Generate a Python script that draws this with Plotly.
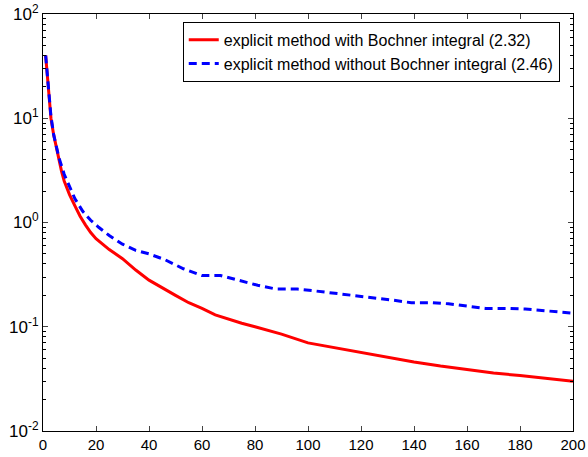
import plotly.graph_objects as go

red_x = [1, 2, 3, 4, 5, 6, 7, 8, 9, 10, 12, 14, 16, 18, 20, 25, 30, 35, 40, 45, 50, 55, 60,
         65, 70, 75, 80, 90, 100, 110, 120, 130, 140, 150, 160, 170, 180, 190, 200]
red_y = [40, 20, 10, 7.0, 5.2, 4.0, 3.1, 2.5, 2.1, 1.85, 1.45, 1.15, 0.95, 0.80, 0.70, 0.55,
         0.45, 0.35, 0.28, 0.235, 0.20, 0.170, 0.15, 0.13, 0.118, 0.108, 0.10, 0.085, 0.070,
         0.063, 0.056, 0.051, 0.046, 0.042, 0.039, 0.036, 0.034, 0.032, 0.030]

blue_x = [1, 2, 3, 4, 5, 6, 8, 10, 12, 15, 18, 21, 25, 30, 35, 40, 46, 53, 60, 67, 74, 81,
          88, 96, 103, 110, 117, 124, 132, 139, 147, 153, 160, 167, 175, 182, 190, 197, 200]
blue_y = [40, 20, 10.5, 7.0, 5.5, 4.2, 2.9, 2.2, 1.7, 1.28, 1.05, 0.9, 0.75, 0.62, 0.54, 0.5,
          0.44, 0.36, 0.31, 0.31, 0.28, 0.25, 0.23, 0.23, 0.22, 0.21, 0.20, 0.19, 0.18, 0.17,
          0.17, 0.166, 0.158, 0.15, 0.15, 0.148, 0.142, 0.137, 0.135]

x_ticks = [0, 20, 40, 60, 80, 100, 120, 140, 160, 180, 200]
y_ticks = [0.01, 0.1, 1, 10, 100]
y_tick_text = ["10<sup>-2</sup>", "10<sup>-1</sup>", "10<sup>0</sup>", "10<sup>1</sup>", "10<sup>2</sup>"]
y_minor = [m * d for d in [0.01, 0.1, 1, 10] for m in range(2, 10)]

fig = go.Figure()
fig.add_trace(go.Scatter(x=red_x, y=red_y, mode="lines",
                         name="explicit method with Bochner integral (2.32)",
                         line=dict(color="#ff0000", width=3)))
fig.add_trace(go.Scatter(x=blue_x, y=blue_y, mode="lines",
                         name="explicit method without Bochner integral (2.46)",
                         line=dict(color="#0000ff", width=3, dash="8px,5px")))

fig.update_layout(
    width=588, height=457,
    margin=dict(l=43, r=15, t=14, b=26),
    paper_bgcolor="white", plot_bgcolor="white",
    font=dict(family="Liberation Sans, Arial, sans-serif", size=14, color="black"),
    showlegend=True,
    legend=dict(x=0.975, y=0.981, xanchor="right", yanchor="top",
                bgcolor="white", bordercolor="black", borderwidth=1,
                font=dict(size=16), tracegroupgap=0),
    xaxis=dict(range=[0, 200], tickvals=x_ticks, ticks="inside", ticklen=5,
               showline=True, linecolor="black", linewidth=1, mirror="ticks",
               showgrid=False, zeroline=False, tickfont=dict(size=15), automargin=False),
    yaxis=dict(type="log", range=[-2, 2], tickvals=y_ticks, ticktext=y_tick_text,
               ticks="inside", ticklen=5,
               showline=True, linecolor="black", linewidth=1, mirror="ticks",
               showgrid=False, zeroline=False, tickfont=dict(size=17), automargin=False,
               minor=dict(tickvals=y_minor, ticks="inside", ticklen=3,
                          tickcolor="black", showgrid=False)),
)

fig.write_html("out.html", config={"displayModeBar": False},
               post_script="document.body.style.margin='0';")
